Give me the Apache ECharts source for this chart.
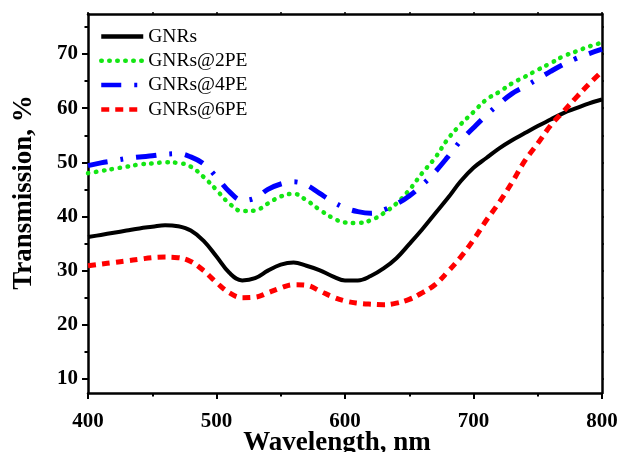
<!DOCTYPE html>
<html>
<head>
<meta charset="utf-8">
<script src="https://cdn.jsdelivr.net/npm/echarts@6/dist/echarts.min.js"></script>
<style>
  html, body { margin: 0; padding: 0; background: #fff; }
  #chart { width: 619px; height: 452px; }
</style>
</head>
<body>
<div id="chart"></div>
<script>
// wavelength grid, nm
var wavelengths = [400, 410, 420, 430, 440, 450, 460, 470, 480, 490,
  500, 510, 520, 530, 540, 550, 560, 570, 580, 590,
  600, 610, 620, 630, 640, 650, 660, 670, 680, 690,
  700, 710, 720, 730, 740, 750, 760, 770, 780, 790, 800];

var gnrs = [36.2, 36.6, 37.0, 37.4, 37.8, 38.1, 38.4, 38.2, 37.4, 35.5,
  32.6, 29.6, 28.2, 28.6, 30.0, 31.1, 31.5, 30.9, 30.1, 29.0,
  28.2, 28.2, 29.0, 30.4, 32.3, 34.9, 37.6, 40.5, 43.4, 46.5,
  49.0, 50.8, 52.6, 54.1, 55.4, 56.7, 57.9, 59.1, 60.0, 60.9, 61.6];

var gnrs2pe = [48.0, 48.4, 48.8, 49.2, 49.6, 49.8, 50.0, 49.9, 49.2, 47.3,
  44.9, 42.4, 41.0, 41.1, 42.4, 43.7, 44.2, 43.0, 41.3, 39.8,
  38.9, 38.8, 39.3, 40.6, 42.4, 44.9, 48.0, 50.8, 54.3, 57.0,
  59.3, 61.6, 63.0, 64.6, 65.8, 67.1, 68.3, 69.6, 70.5, 71.4, 72.1];

var gnrs4pe = [49.4, 49.9, 50.3, 50.7, 51.0, 51.2, 51.5, 51.6, 51.0, 49.7,
  47.3, 44.6, 43.0, 43.4, 45.0, 46.0, 46.4, 45.8, 44.3, 42.8,
  41.6, 40.9, 40.6, 41.2, 42.3, 43.8, 45.8, 48.2, 51.0, 54.0,
  56.4, 58.7, 60.8, 62.7, 64.0, 65.4, 66.8, 68.1, 69.2, 70.1, 70.9];

var gnrs6pe = [30.9, 31.2, 31.5, 31.8, 32.1, 32.4, 32.5, 32.4, 31.7, 30.0,
  27.8, 25.9, 25.0, 25.1, 25.9, 26.8, 27.4, 27.3, 26.3, 25.2,
  24.4, 24.0, 23.8, 23.7, 24.0, 24.7, 25.9, 27.4, 29.8, 32.5,
  35.7, 39.3, 42.6, 46.3, 50.3, 53.5, 56.8, 59.4, 62.0, 64.5, 66.8];

var seriesNames = ['GNRs', 'GNRs@2PE', 'GNRs@4PE', 'GNRs@6PE'];
var yTickLabels = [10, 20, 30, 40, 50, 60, 70];
var yMinorTicks = [15, 25, 35, 45, 55, 65, 75];
var yAllTicks = [10, 15, 20, 25, 30, 35, 40, 45, 50, 55, 60, 65, 70, 75];

var FONT = '"Liberation Serif", "Times New Roman", serif';

function pairs(ys) {
  return wavelengths.map(function (x, i) { return [x, ys[i]]; });
}

var chart = echarts.init(document.getElementById('chart'), null, { renderer: 'canvas' });

var axisLine = { show: true, onZero: false, lineStyle: { color: '#000', width: 2.5 } };

var option = {
  animation: false,
  backgroundColor: '#fff',
  grid: { left: 88, right: 17, top: 14, bottom: 59, outerBoundsMode: 'none', containLabel: false },
  legend: {
    orient: 'vertical',
    left: 99,
    top: 26.5,
    padding: 0,
    itemWidth: 42,
    itemHeight: 14,
    itemGap: 4.3,
    itemStyle: { opacity: 0 },
    lineStyle: { width: 4.5 },
    textStyle: { fontFamily: FONT, fontSize: 19.5, lineHeight: 20, color: '#000' },
    data: seriesNames
  },
  xAxis: [{
    type: 'value',
    position: 'bottom',
    min: 400, max: 800, interval: 100,
    name: 'Wavelength, nm',
    nameLocation: 'middle',
    nameGap: 37,
    nameMoveOverlap: false,
    nameTextStyle: { fontFamily: FONT, fontSize: 27, fontWeight: 'bold', color: '#000', padding: [0, 16, 0, 0] },
    axisLine: axisLine,
    axisTick: { show: true, inside: false, length: 6, lineStyle: { color: '#000', width: 2 } },
    minorTick: { show: true, splitNumber: 2, length: 3.5, lineStyle: { color: '#000', width: 2 } },
    axisLabel: { fontFamily: FONT, fontSize: 21, fontWeight: 'bold', color: '#000', margin: 18 },
    splitLine: { show: false }
  }, {
    type: 'value',
    position: 'top',
    min: 400, max: 800, interval: 50,
    axisLine: axisLine,
    axisTick: { show: true, length: 2, lineStyle: { color: '#000', width: 1.5 } },
    axisLabel: { show: false },
    splitLine: { show: false }
  }],
  yAxis: [{
    type: 'value',
    position: 'left',
    min: 7.4, max: 77.4,
    name: 'Transmission, %',
    nameLocation: 'middle',
    nameGap: 50,
    nameMoveOverlap: false,
    nameTextStyle: { fontFamily: FONT, fontSize: 27, fontWeight: 'bold', color: '#000', padding: [0, 0, 0, 22] },
    axisLine: axisLine,
    axisTick: { show: true, length: 6, customValues: yTickLabels, lineStyle: { color: '#000', width: 2 } },
    axisLabel: { fontFamily: FONT, fontSize: 21, fontWeight: 'bold', color: '#000', margin: 10, customValues: yTickLabels },
    splitLine: { show: false }
  }, {
    type: 'value',
    position: 'left',
    min: 7.4, max: 77.4,
    axisLine: { show: false },
    axisTick: { show: true, length: 3.5, customValues: yMinorTicks, lineStyle: { color: '#000', width: 2 } },
    axisLabel: { show: false, customValues: yMinorTicks },
    splitLine: { show: false }
  }, {
    type: 'value',
    position: 'right',
    min: 7.4, max: 77.4,
    axisLine: axisLine,
    axisTick: { show: true, length: 2, customValues: yAllTicks, lineStyle: { color: '#000', width: 1.5 } },
    axisLabel: { show: false, customValues: yAllTicks },
    splitLine: { show: false }
  }],
  series: [{
    name: seriesNames[0],
    type: 'line',
    smooth: 0.4,
    showSymbol: false,
    symbol: 'none',
    color: '#000000',
    lineStyle: { color: '#000000', width: 4 },
    data: pairs(gnrs)
  }, {
    name: seriesNames[1],
    type: 'line',
    smooth: 0.4,
    showSymbol: false,
    symbol: 'none',
    color: '#14e614',
    lineStyle: { color: '#14e614', width: 4.5, type: [0.5, 7.5], cap: 'round' },
    data: pairs(gnrs2pe)
  }, {
    name: seriesNames[2],
    type: 'line',
    smooth: 0.4,
    showSymbol: false,
    symbol: 'none',
    color: '#0000ff',
    lineStyle: { color: '#0000ff', width: 5, type: [20, 13, 3, 13] },
    data: pairs(gnrs4pe)
  }, {
    name: seriesNames[3],
    type: 'line',
    smooth: 0.4,
    showSymbol: false,
    symbol: 'none',
    color: '#ff0000',
    lineStyle: { color: '#ff0000', width: 5, type: [8, 6] },
    data: pairs(gnrs6pe)
  }]
};

chart.setOption(option);
</script>
</body>
</html>
